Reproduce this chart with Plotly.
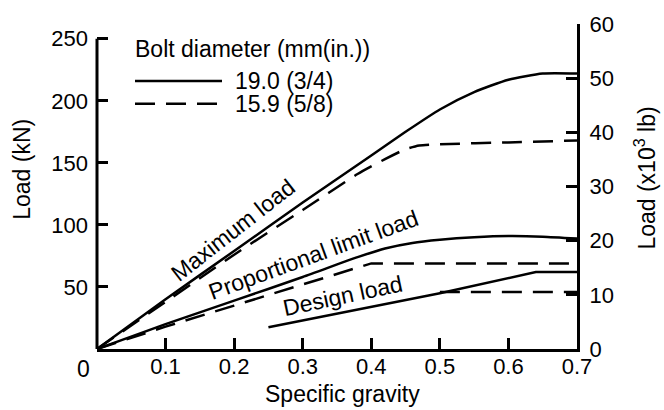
import plotly.graph_objects as go

# ---- data (specific gravity vs load in kN) ----
max_solid_x = [0, 0.1, 0.2, 0.3, 0.4, 0.45, 0.5, 0.55, 0.6, 0.65, 0.7]
max_solid_y = [0, 40, 79, 118, 156, 175, 193, 207, 217, 222, 222]
max_dash_x = [0, 0.1, 0.2, 0.3, 0.38, 0.42, 0.45, 0.47, 0.5, 0.6, 0.7]
max_dash_y = [0, 38, 76, 112, 141, 153, 161, 164, 165, 166.5, 168]
prop_solid_x = [0, 0.1, 0.2, 0.3, 0.38, 0.42, 0.46, 0.5, 0.55, 0.6, 0.65, 0.7]
prop_solid_y = [0, 20, 39, 58, 74, 81, 85.5, 88, 90, 91, 90.5, 89]
prop_dash_x = [0, 0.1, 0.2, 0.3, 0.39, 0.4, 0.7]
prop_dash_y = [0, 18, 35, 52, 67, 69, 69]
design_solid_x = [0.25, 0.5, 0.64, 0.7]
design_solid_y = [17.5, 45, 62, 62]
design_dash_x = [0.5, 0.7]
design_dash_y = [46, 46]

x_ticks = [0.1, 0.2, 0.3, 0.4, 0.5, 0.6, 0.7]
y_ticks_kn = [50, 100, 150, 200, 250]
y_ticks_lb = [0, 10, 20, 30, 40, 50, 60]

FONT = "Liberation Sans, Arial, sans-serif"
FS = 23
LW = 2.5
DASH = "20px,11px"

fig = go.Figure()
series = [
    (max_solid_x, max_solid_y, "solid", "spline"),
    (max_dash_x, max_dash_y, DASH, "spline"),
    (prop_solid_x, prop_solid_y, "solid", "spline"),
    (prop_dash_x, prop_dash_y, DASH, "linear"),
    (design_solid_x, design_solid_y, "solid", "linear"),
    (design_dash_x, design_dash_y, DASH, "linear"),
]
for xs, ys, d, shp in series:
    line = dict(color="black", width=LW, dash=d, shape=shp)
    if shp == "spline":
        line["smoothing"] = 0.6
    fig.add_trace(go.Scatter(x=xs, y=ys, mode="lines", line=line,
                             showlegend=False, hoverinfo="skip"))
# dummy trace for right axis
fig.add_trace(go.Scatter(x=[0], y=[0], yaxis="y2", mode="lines", line=dict(width=0),
                         showlegend=False, hoverinfo="skip"))

L, R, T, B = 97, 87, 19, 61
W, H = 664, 410
pw, ph = W - L - R, H - T - B

def px(xp):
    return (xp - L) / pw

def py(yp):
    return (H - B - yp) / ph

fig.update_layout(
    width=W, height=H,
    margin=dict(l=L, r=R, t=T, b=B, pad=0),
    paper_bgcolor="white", plot_bgcolor="white",
    font=dict(family=FONT, size=FS, color="black"),
    xaxis=dict(range=[0, 0.7], tickvals=x_ticks, ticktext=[str(v) for v in x_ticks],
               ticks="inside", ticklen=11, tickwidth=LW, tickcolor="black",
               showline=True, linewidth=LW + 0.5, linecolor="black", showgrid=False, zeroline=False,
               ticklabelstandoff=-4, tickfont=dict(size=22)),
    yaxis=dict(range=[0, 261.9], tickvals=y_ticks_kn, ticks="inside", ticklen=11, tickwidth=LW,
               tickcolor="black", showline=False, showgrid=False, zeroline=False,
               ticklabelstandoff=8, tickfont=dict(size=22)),
    yaxis2=dict(range=[0, 60], tickvals=y_ticks_lb, overlaying="y", side="right", anchor="x",
                ticks="inside", ticklen=11, tickwidth=LW, tickcolor="black",
                showline=True, linewidth=LW + 0.5, linecolor="black", showgrid=False, zeroline=False,
                ticklabelstandoff=5, tickfont=dict(size=22)),
)

# left axis line only up to 250
fig.add_shape(type="line", xref="paper", yref="y", x0=0, x1=0, y0=0, y1=250,
              line=dict(color="black", width=LW + 0.5))

# legend samples
fig.add_shape(type="line", xref="paper", yref="paper", x0=px(135), x1=px(222), y0=py(77), y1=py(77),
              line=dict(color="black", width=LW))
fig.add_shape(type="line", xref="paper", yref="paper", x0=px(135), x1=px(222), y0=py(100), y1=py(100),
              line=dict(color="black", width=LW, dash=DASH))

ann = [
    dict(text="Bolt diameter (mm(in.))", x=px(133), y=py(44), xanchor="left"),
    dict(text="19.0 (3/4)", x=px(233), y=py(77), xanchor="left"),
    dict(text="15.9 (5/8)", x=px(233), y=py(100), xanchor="left"),
    dict(text="Load (kN)", x=px(22), y=py(167), textangle=-90),
    dict(text="Load (x10<sup>3</sup> lb)", x=px(645), y=py(176), textangle=-90),
    dict(text="Specific gravity", x=px(342), y=py(395)),
    dict(text="0", x=px(83), y=py(369)),
    dict(text="Maximum load", x=px(233), y=py(228), textangle=-38),
    dict(text="Proportional limit load", x=px(313), y=py(254), textangle=-20),
    dict(text="Design load", x=px(342), y=py(295), textangle=-12),
]
for a in ann:
    a.setdefault("xanchor", "center")
    fig.add_annotation(xref="paper", yref="paper", showarrow=False, yanchor="middle",
                       font=dict(family=FONT, size=FS, color="black"), **a)

fig.write_html("out.html")
